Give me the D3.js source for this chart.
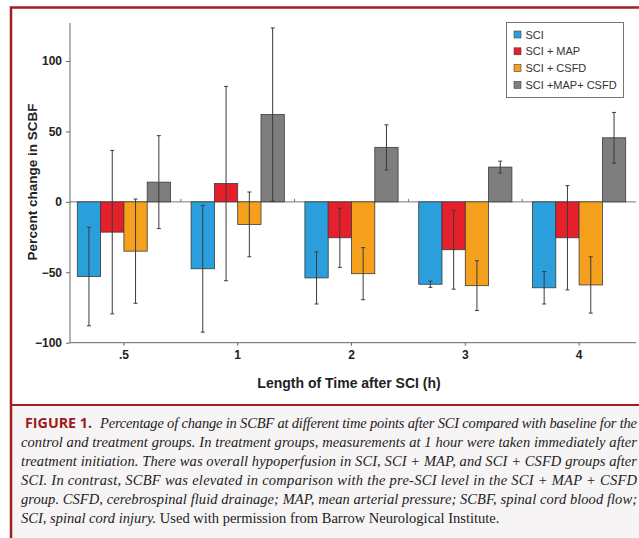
<!DOCTYPE html>
<html>
<head>
<meta charset="utf-8">
<script src="https://cdnjs.cloudflare.com/ajax/libs/d3/7.8.5/d3.min.js"></script>
<style>
  body { margin: 0; background: #fff; }
  .chart svg { display: block; }
</style>
</head>
<body>
<div class="chart"></div>
<script>
// DATA
var categories = ['.5', '1', '2', '3', '4'];
var seriesNames = ['SCI', 'SCI + MAP', 'SCI + CSFD', 'SCI +MAP+ CSFD'];
var seriesColors = ['#2b9fdc', '#e6202a', '#f6a11d', '#7e7e7e'];
var sciMean = [-53, -47.5, -54, -58.5, -61];
var sciErr = [35, 45, 18.5, 2.2, 11.5];
var mapMean = [-21.5, 13, -25.5, -34, -25.5];
var mapErr = [58, 69, 21, 28, 37];
var csfdMean = [-35, -16, -51, -59.5, -59];
var csfdErr = [37, 23, 18.5, 17.7, 20];
var allMean = [14, 62, 38.7, 24.7, 45.5];
var allErr = [33, 61.5, 16, 4.2, 18];
var yTicks = [-100, -50, 0, 50, 100];

var captionLines = [
  'control and treatment groups. In treatment groups, measurements at 1 hour were taken immediately after',
  'treatment initiation. There was overall hypoperfusion in SCI, SCI + MAP, and SCI + CSFD groups after',
  'SCI. In contrast, SCBF was elevated in comparison with the pre-SCI level in the SCI + MAP + CSFD',
  'group. CSFD, cerebrospinal fluid drainage; MAP, mean arterial pressure; SCBF, spinal cord blood flow;'
];

var means = [sciMean, mapMean, csfdMean, allMean];
var errs = [sciErr, mapErr, csfdErr, allErr];

var width = 639, height = 538;
var plotLeft = 70, plotRight = 636, plotTop = 23, plotBottom = 342.7;

var svg = d3.select('.chart')
  .append('svg')
  .attr('width', width)
  .attr('height', height);

// FRAME + CAPTION BACKGROUND
svg.append('rect')
  .attr('x', 11).attr('y', 405)
  .attr('width', width).attr('height', height)
  .attr('fill', '#f6f4f4');

svg.append('rect')
  .attr('x', 11).attr('y', 7.5)
  .attr('width', width + 10).attr('height', height + 10)
  .attr('fill', 'none')
  .attr('stroke', '#a11e23')
  .attr('stroke-width', 2.5);

svg.append('line')
  .attr('x1', 11).attr('x2', width)
  .attr('y1', 405).attr('y2', 405)
  .attr('stroke', '#a11e23')
  .attr('stroke-width', 2);

// SCALES
var xScale = d3.scaleBand()
  .domain(categories)
  .range([67, 636]);

var xInner = d3.scaleBand()
  .domain(seriesNames)
  .range([-46.6, 46.6]);

var yScale = d3.scaleLinear()
  .domain([-100, 127])
  .range([plotBottom, plotTop]);

// ZERO LINE
svg.append('line')
  .attr('x1', plotLeft).attr('x2', plotRight)
  .attr('y1', yScale(0)).attr('y2', yScale(0))
  .attr('stroke', '#777')
  .attr('stroke-width', 1);

svg.selectAll('.zero-tick')
  .data(categories.slice(1))
  .enter()
  .append('line')
  .attr('class', 'zero-tick')
  .attr('x1', (d) => xScale(d)).attr('x2', (d) => xScale(d))
  .attr('y1', yScale(0)).attr('y2', yScale(0) - 3)
  .attr('stroke', '#777');

// BARS
var rows = [];
seriesNames.forEach((s, si) => {
  categories.forEach((c, ci) => {
    rows.push({cat: c, series: s, color: seriesColors[si], mean: means[si][ci], err: errs[si][ci]});
  });
});

var cx = (d) => xScale(d.cat) + xScale.bandwidth() / 2 + xInner(d.series);

svg.selectAll('rect.bar')
  .data(rows)
  .enter()
  .append('rect')
  .attr('class', 'bar')
  .attr('x', (d) => cx(d))
  .attr('y', (d) => yScale(Math.max(0, d.mean)))
  .attr('width', xInner.bandwidth())
  .attr('height', (d) => Math.abs(yScale(d.mean) - yScale(0)))
  .attr('fill', (d) => d.color)
  .attr('stroke', '#3a3a3a')
  .attr('stroke-width', 0.8);

// ERROR BARS
var errG = svg.selectAll('g.err')
  .data(rows)
  .enter()
  .append('g')
  .attr('class', 'err')
  .attr('stroke', '#3b3b3b')
  .attr('stroke-width', 1);

errG.append('line')
  .attr('x1', (d) => cx(d) + xInner.bandwidth() / 2)
  .attr('x2', (d) => cx(d) + xInner.bandwidth() / 2)
  .attr('y1', (d) => yScale(d.mean + d.err))
  .attr('y2', (d) => yScale(d.mean - d.err));

errG.append('line')
  .attr('x1', (d) => cx(d) + xInner.bandwidth() / 2 - 2)
  .attr('x2', (d) => cx(d) + xInner.bandwidth() / 2 + 2)
  .attr('y1', (d) => yScale(d.mean + d.err))
  .attr('y2', (d) => yScale(d.mean + d.err));

errG.append('line')
  .attr('x1', (d) => cx(d) + xInner.bandwidth() / 2 - 2)
  .attr('x2', (d) => cx(d) + xInner.bandwidth() / 2 + 2)
  .attr('y1', (d) => yScale(d.mean - d.err))
  .attr('y2', (d) => yScale(d.mean - d.err));

// AXES
var yAxis = d3.axisLeft(yScale).tickValues(yTicks).tickSize(4).tickPadding(4);
var yG = svg.append('g')
  .attr('transform', 'translate(' + plotLeft + ', 0)')
  .call(yAxis);
yG.select('.domain').attr('d', 'M0,' + plotTop + 'V' + plotBottom).attr('stroke', '#666');
yG.selectAll('.tick line').attr('stroke', '#666');
yG.selectAll('.tick text')
  .attr('fill', '#222')
  .style('font', 'bold 12px "Liberation Sans", Arial, sans-serif');

var xAxis = d3.axisBottom(xScale).tickSize(3).tickPadding(5);
var xG = svg.append('g')
  .attr('transform', 'translate(0, ' + plotBottom + ')')
  .call(xAxis);
xG.select('.domain').attr('d', 'M' + plotLeft + ',0H' + plotRight).attr('stroke', '#666');
xG.selectAll('.tick line').attr('stroke', '#666');
xG.selectAll('.tick text')
  .attr('fill', '#222')
  .style('font', 'bold 12px "Liberation Sans", Arial, sans-serif');

// AXIS TITLES
svg.append('text')
  .attr('transform', 'translate(37, 182) rotate(-90)')
  .attr('text-anchor', 'middle')
  .attr('fill', '#222')
  .style('font', 'bold 13.5px "Liberation Sans", Arial, sans-serif')
  .text('Percent change in SCBF');

svg.append('text')
  .attr('x', 349).attr('y', 388)
  .attr('text-anchor', 'middle')
  .attr('fill', '#222')
  .style('font', 'bold 14px "Liberation Sans", Arial, sans-serif')
  .text('Length of Time after SCI (h)');

// LEGEND
var legend = svg.append('g');
legend.append('rect')
  .attr('x', 506.5).attr('y', 22.5)
  .attr('width', 117).attr('height', 75)
  .attr('fill', '#fff')
  .attr('stroke', '#777')
  .attr('stroke-width', 1);

var items = legend.selectAll('g.item')
  .data(seriesNames)
  .enter()
  .append('g')
  .attr('class', 'item')
  .attr('transform', (d, i) => 'translate(514, ' + (34.5 + i * 16.8) + ')');

items.append('rect')
  .attr('x', 0).attr('y', -3.5)
  .attr('width', 7).attr('height', 7)
  .attr('fill', (d, i) => seriesColors[i])
  .attr('stroke', '#444')
  .attr('stroke-width', 0.6);

items.append('text')
  .attr('x', 11.5).attr('y', 4)
  .attr('fill', '#333')
  .style('font', '11px "Liberation Sans", Arial, sans-serif')
  .text((d) => d);

// CAPTION
var capFont = 'italic 14.5px "Liberation Serif", "DejaVu Serif", serif';

svg.append('text')
  .attr('x', 25).attr('y', 428)
  .attr('fill', '#9b1c21')
  .attr('textLength', 67)
  .attr('lengthAdjust', 'spacingAndGlyphs')
  .style('font', 'bold 15px "Open Sans", "Liberation Sans", sans-serif')
  .text('FIGURE 1.');

svg.append('text')
  .attr('x', 100).attr('y', 428)
  .attr('fill', '#222')
  .attr('textLength', 537)
  .attr('lengthAdjust', 'spacing')
  .style('font', capFont)
  .text('Percentage of change in SCBF at different time points after SCI compared with baseline for the');

svg.selectAll('text.cap')
  .data(captionLines)
  .enter()
  .append('text')
  .attr('class', 'cap')
  .attr('x', 21)
  .attr('y', (d, i) => 447 + i * 19.1)
  .attr('fill', '#222')
  .attr('textLength', 616)
  .attr('lengthAdjust', 'spacing')
  .style('font', capFont)
  .text((d) => d);

var last = svg.append('text')
  .attr('x', 21).attr('y', 523)
  .attr('fill', '#222')
  .style('font', capFont);
last.append('tspan').text('SCI, spinal cord injury.');
last.append('tspan')
  .style('font-style', 'normal')
  .text(' Used with permission from Barrow Neurological Institute.');
</script>
</body>
</html>
